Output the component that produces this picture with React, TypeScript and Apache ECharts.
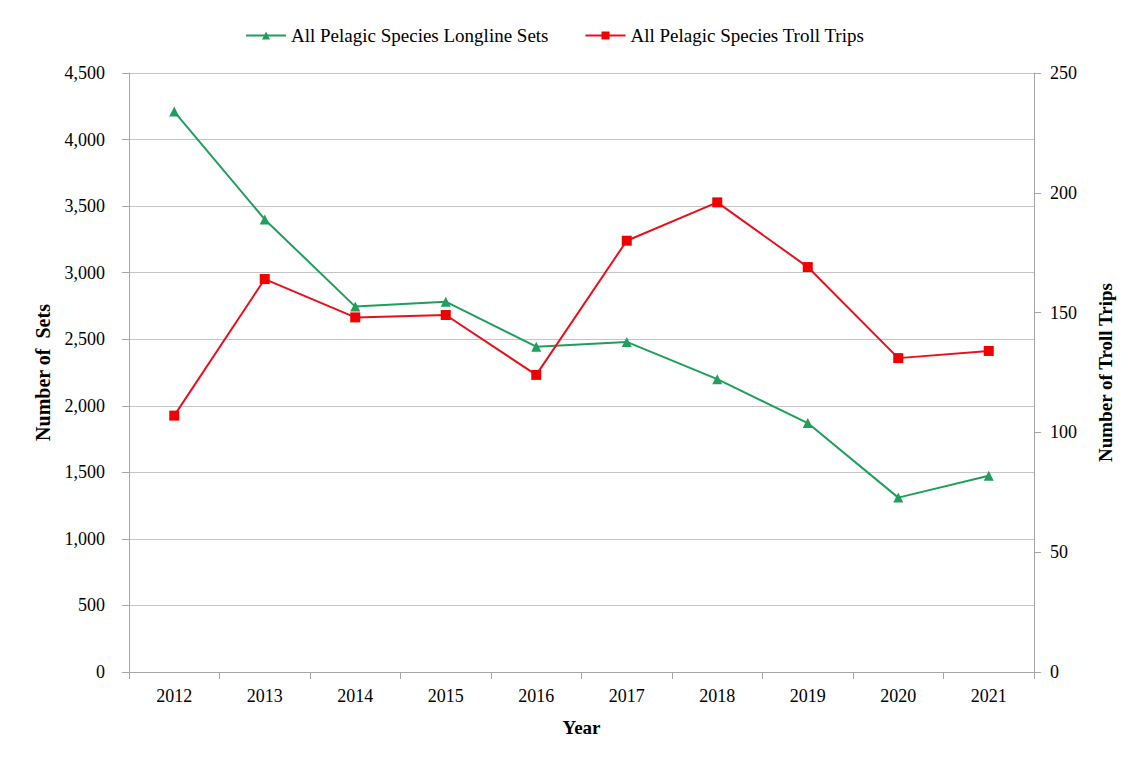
import React, { useEffect, useRef } from "react";
import * as echarts from "echarts";

const years = ["2012", "2013", "2014", "2015", "2016", "2017", "2018", "2019", "2020", "2021"];
const longlineSets = [4210, 3400, 2745, 2782, 2444, 2480, 2200, 1870, 1310, 1475];
const trollTrips = [107, 164, 148, 149, 124, 180, 196, 169, 131, 134];

const FONT = "'Liberation Serif', 'Times New Roman', serif";

export default function App() {
  const ref = useRef<HTMLDivElement>(null);
  useEffect(() => {
    if (!ref.current) return;
    const chart = echarts.init(ref.current, null, { renderer: "svg" });
    chart.setOption({
      animation: false,
      textStyle: { fontFamily: FONT, color: "#000" },
      legend: {
        top: 21,
        left: 240,
        itemGap: 36,
        itemWidth: 40,
        itemHeight: 10,
        textStyle: { fontFamily: FONT, fontSize: 19, color: "#000" },
        data: ["All Pelagic Species Longline Sets", "All Pelagic Species Troll Trips"],
      },
      grid: { left: 129, right: 94, top: 73, bottom: 85, containLabel: false },
      xAxis: {
        type: "category",
        data: years,
        boundaryGap: true,
        name: "Year",
        nameLocation: "middle",
        nameGap: 46,
        nameTextStyle: { fontFamily: FONT, fontSize: 19, fontWeight: "bold", color: "#000" },
        axisLine: { lineStyle: { color: "#a6a6a6", width: 1 } },
        axisTick: { show: true, length: 7, alignWithLabel: false, lineStyle: { color: "#a6a6a6" } },
        axisLabel: { fontFamily: FONT, fontSize: 18, color: "#000", margin: 15 },
      },
      yAxis: [
        {
          type: "value",
          min: 0,
          max: 4500,
          interval: 500,
          name: "Number of  Sets",
          nameLocation: "middle",
          nameGap: 76,
          nameTextStyle: { fontFamily: FONT, fontSize: 20, fontWeight: "bold", color: "#000" },
          axisLine: { show: true, lineStyle: { color: "#a6a6a6" } },
          axisTick: { show: true, length: 7, lineStyle: { color: "#a6a6a6" } },
          axisLabel: {
            fontFamily: FONT,
            fontSize: 18,
            color: "#000",
            margin: 24,
            formatter: (v: number) => v.toLocaleString("en-US"),
          },
          splitLine: { show: true, lineStyle: { color: "#c4c4c4", width: 1 } },
        },
        {
          type: "value",
          min: 0,
          max: 250,
          interval: 50,
          position: "right",
          name: "Number of Troll Trips",
          nameLocation: "middle",
          nameGap: 62,
          nameRotate: 90,
          nameTextStyle: { fontFamily: FONT, fontSize: 19, fontWeight: "bold", color: "#000" },
          axisLine: { show: true, lineStyle: { color: "#a6a6a6" } },
          axisTick: { show: true, length: 7, lineStyle: { color: "#a6a6a6" } },
          axisLabel: { fontFamily: FONT, fontSize: 18, color: "#000", margin: 16 },
          splitLine: { show: false },
        },
      ],
      series: [
        {
          name: "All Pelagic Species Longline Sets",
          type: "line",
          yAxisIndex: 0,
          data: longlineSets,
          symbol: "triangle",
          symbolSize: 10,
          lineStyle: { color: "#1f9e5c", width: 2 },
          itemStyle: { color: "#1f9e5c" },
        },
        {
          name: "All Pelagic Species Troll Trips",
          type: "line",
          yAxisIndex: 1,
          data: trollTrips,
          symbol: "rect",
          symbolSize: 10,
          lineStyle: { color: "#e8101c", width: 2 },
          itemStyle: { color: "#f20000" },
        },
      ],
    });
    return () => chart.dispose();
  }, []);
  return (
    <div style={{ position: "relative", width: 1128, height: 757, margin: -8 }}>
      <div ref={ref} style={{ width: 1128, height: 757 }} />
      <div
        style={{
          position: "absolute",
          left: 6,
          top: 6,
          width: 1114,
          height: 744,
          border: "2px solid #c8c8c8",
          pointerEvents: "none",
        }}
      />
    </div>
  );
}
